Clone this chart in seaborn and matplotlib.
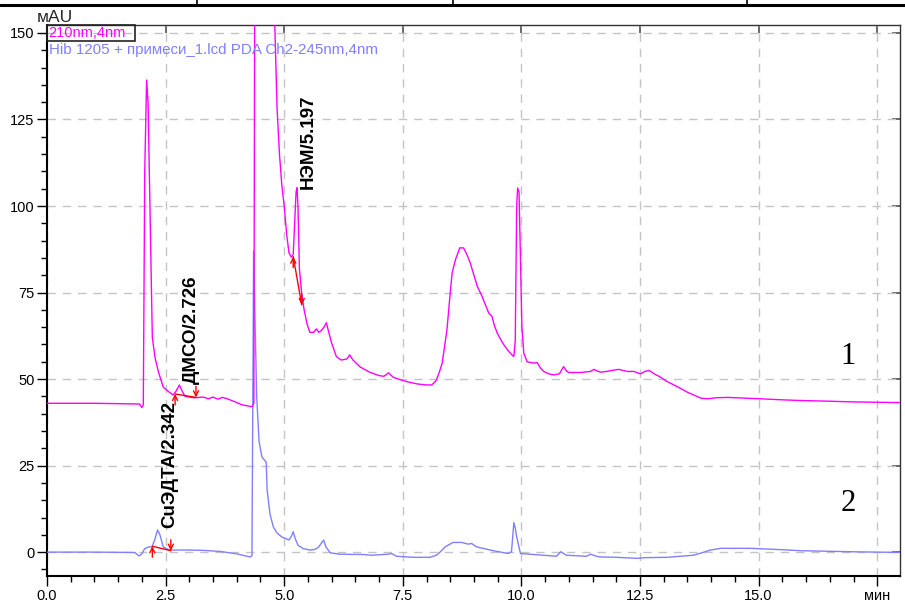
import numpy as np
import pandas as pd
import matplotlib
matplotlib.use("Agg")
import matplotlib.pyplot as plt
from matplotlib.lines import Line2D
from matplotlib.patches import Rectangle
import seaborn as sns

# ---------------- data ----------------
t_210 = [0.0, 1.0, 1.95, 2.0, 2.03, 2.06, 2.10, 2.13, 2.17, 2.22, 2.28, 2.35, 2.45, 2.55,
         2.66, 2.72, 2.79, 2.85, 2.91, 3.1, 3.3, 3.4, 3.5, 3.6, 3.7, 3.8, 3.95, 4.1, 4.25,
         4.32, 4.36, 4.38, 4.79, 4.80, 4.85, 4.90, 4.95, 5.00, 5.05, 5.10, 5.15, 5.19, 5.22,
         5.25, 5.27, 5.29, 5.32, 5.37, 5.42, 5.48, 5.54, 5.62, 5.68, 5.73, 5.78, 5.84, 5.89,
         5.93, 6.0, 6.1, 6.2, 6.32, 6.38, 6.45, 6.6, 6.8, 7.0, 7.1, 7.2, 7.3, 7.45, 7.6, 7.8,
         8.0, 8.11, 8.2, 8.27, 8.33, 8.43, 8.5, 8.54, 8.61, 8.70, 8.78, 8.85, 8.92, 9.0, 9.07,
         9.17, 9.24, 9.31, 9.38, 9.43, 9.49, 9.56, 9.63, 9.72, 9.80, 9.84, 9.87, 9.90, 9.92,
         9.95, 9.98, 10.01, 10.05, 10.12, 10.26, 10.33, 10.40, 10.47, 10.58, 10.68, 10.80,
         10.89, 10.95, 11.0, 11.25, 11.45, 11.53, 11.6, 11.67, 11.8, 11.95, 12.05, 12.23,
         12.37, 12.51, 12.6, 12.69, 12.8, 12.9, 13.07, 13.3, 13.5, 13.78, 13.92, 14.1, 14.34,
         14.7, 15.04, 15.5, 15.89, 16.5, 17.0, 18.0]
v_210 = [43.0, 43.0, 42.8, 41.8, 42.5, 110, 136.4, 130, 100, 62, 56, 52, 47.7, 46.5,
         45.4, 46.5, 48.3, 46.5, 45.0, 44.6, 44.8, 44.3, 44.8, 44.2, 44.7, 44.3, 43.5, 42.6, 42.2,
         42.0, 43.0, 175, 175, 153, 128, 115, 106, 100, 92, 86.5, 85.2, 86, 95,
         104, 105.3, 100, 82, 74.5, 70, 66, 63.5, 63.5, 64.5, 63.5, 64, 65, 66.3,
         64, 60.4, 56.5, 55.5, 55.8, 57, 55.5, 53.5, 52, 51, 50.8, 51.8, 50.5, 49.8, 49.2, 48.6,
         48.3, 48.3, 49.5, 52, 54.6, 64.2, 75, 80.7, 84.5, 87.9, 87.9, 86, 83.6, 80, 76.8,
         73.9, 71.5, 69.1, 68.1, 65.5, 63.3, 61.5, 59.9, 58.2, 57, 56.5, 61, 100, 105.2,
         104, 85, 65, 57.5, 55, 54.6, 54.8, 53.2, 52.2, 51.5, 51.2, 51.5,
         53.6, 52.3, 51.9, 51.9, 52.2, 52.8, 52.3, 52.0, 52.2, 52.6, 52.8, 52.2,
         52.2, 51.5, 52.2, 52.5, 51.5, 50.8, 49.3, 47.7, 46.2, 44.5, 44.3, 44.6, 44.7,
         44.5, 44.3, 44.0, 43.8, 43.6, 43.4, 43.2]

t_245 = [0.0, 1.0, 1.85, 1.94, 2.0, 2.06, 2.14, 2.21, 2.27, 2.33, 2.38, 2.45, 2.55, 2.6,
         3.0, 3.3, 3.65, 4.0, 4.28, 4.32, 4.345, 4.355, 4.38, 4.42, 4.47, 4.53, 4.62, 4.64,
         4.70, 4.77, 4.85, 4.95, 5.1, 5.15, 5.19, 5.23, 5.29, 5.4, 5.55, 5.65, 5.72, 5.78,
         5.83, 5.88, 5.97, 6.17, 6.67, 6.84, 7.2, 7.26, 7.37, 7.72, 8.07, 8.21, 8.3, 8.39,
         8.56, 8.74, 8.88, 8.95, 9.06, 9.41, 9.72, 9.79, 9.82, 9.84, 9.87, 9.90, 9.98, 10.18,
         10.46, 10.74, 10.83, 10.95, 11.37, 11.46, 11.58, 11.67, 12.0, 12.44, 12.6, 13.07,
         13.63, 13.8, 13.99, 14.2, 14.83, 15.5, 15.89, 17.0, 18.0]
v_245 = [0.0, 0.0, -0.1, -1.1, -0.5, 1.0, 1.5, 1.5, 3.5, 6.4, 5.0, 1.5, 0.8, 0.6,
         0.6, 0.5, 0.2, -0.5, -1.4, -1.0, 60, 87, 70, 45, 32, 27.5, 26, 18,
         11, 7.3, 5.5, 4.4, 3.5, 4.5, 5.9, 4.0, 2.0, 1.0, 0.6, 0.8, 1.4, 2.5,
         3.5, 1.5, -0.2, -0.6, -0.7, -0.9, -0.6, -0.4, -1.2, -1.5, -1.5, -0.9, 0.2, 1.5,
         2.8, 2.8, 2.3, 2.5, 1.5, 0.4, -0.4, 0.1, 5.0, 8.5, 7.0, 4.4, -0.4, -0.6,
         -0.9, -1.2, 0.1, -0.9, -1.2, -0.6, -1.2, -1.4, -1.5, -1.8, -1.6, -1.5,
         -0.9, -0.2, 0.6, 1.1, 1.1, 0.7, 0.4, 0.1, -0.1]

series_names = ["210nm,4nm", "Hib 1205 + примеси_1.lcd PDA Ch2-245nm,4nm"]
series_colors = ["#ff00ff", "#8080ff"]

peak_labels = ["CuЭДТА/2.342", "ДМСО/2.726", "НЭМ/5.197"]
peak_label_x = [2.59, 3.05, 5.51]
peak_label_y = [7.0, 48.6, 105.0]
# integration baselines: (start t, start v, end t, end v)
base_t0 = [2.22, 2.70, 5.19]
base_v0 = [1.7, 45.7, 85.4]
base_t1 = [2.61, 3.14, 5.37]
base_v1 = [0.4, 44.7, 71.4]

x_ticks = [0.0, 2.5, 5.0, 7.5, 10.0, 12.5, 15.0, 17.5]
x_ticklabels = ["0.0", "2.5", "5.0", "7.5", "10.0", "12.5", "15.0", "мин"]
y_ticks = [0, 25, 50, 75, 100, 125, 150]
trace_numbers = ["1", "2"]
trace_number_x = [16.88, 16.88]
trace_number_y = [56.5, 14.0]

# ---------------- figure ----------------
sns.set_theme(style="white")
plt.rcParams["font.family"] = ["Liberation Sans", "DejaVu Sans"]

fig = plt.figure(figsize=(9.05, 6.05), dpi=100)
W, H = 905, 605
L, R, T, B = 47, 900, 25, 576
ax = fig.add_axes([L / W, 1 - B / H, (R - L) / W, (B - T) / H])

df_a = pd.DataFrame({"t": t_210, "v": v_210})
df_b = pd.DataFrame({"t": t_245, "v": v_245})
sns.lineplot(data=df_b, x="t", y="v", color=series_colors[1], lw=1.0,
             estimator=None, sort=False, ax=ax, zorder=3)
sns.lineplot(data=df_a, x="t", y="v", color=series_colors[0], lw=1.0,
             estimator=None, sort=False, ax=ax, zorder=4)

ax.set_xlim(0, 17.98)
ax.set_ylim(-6.9, 152.3)
ax.set_xlabel("")
ax.set_ylabel("")

ax.set_xticks(x_ticks)
ax.set_xticklabels(x_ticklabels)
ax.set_yticks(y_ticks)
ax.set_xticks(np.arange(0, 18.0, 0.5), minor=True)
ax.set_yticks(np.arange(-5, 152, 5), minor=True)
ax.tick_params(axis="both", which="major", direction="out", length=7, width=1,
               color="black", labelsize=10.5, labelcolor="black", pad=2,
               bottom=True, left=True)
ax.tick_params(axis="both", which="minor", direction="out", length=4, width=1,
               color="black", bottom=True, left=True)

ax.grid(True, which="major", color="#c4c4c4", lw=1.0, linestyle=(0, (6, 5)))
ax.set_axisbelow(True)

for s in ["left", "bottom"]:
    ax.spines[s].set_color("black")
    ax.spines[s].set_linewidth(1.5)
for s in ["top", "right"]:
    ax.spines[s].set_color("#333333")
    ax.spines[s].set_linewidth(1.0)

# inward ticks on top and right
sec_x = ax.secondary_xaxis("top")
sec_x.set_xticks(x_ticks)
sec_x.tick_params(direction="in", length=6, labeltop=False, color="#555555")
sec_x.spines["top"].set_visible(False)
sec_y = ax.secondary_yaxis("right")
sec_y.set_yticks(y_ticks)
sec_y.tick_params(direction="in", length=6, labelright=False, color="#555555")
sec_y.spines["right"].set_visible(False)

# legend-like header
ax.add_patch(Rectangle((0, 1 - 16 / 551), 88 / 853, 16 / 551, transform=ax.transAxes,
                       fill=False, edgecolor="#222222", lw=1.2, zorder=6, clip_on=False))
ax.text(0.002, 1 - 8 / 551, series_names[0], transform=ax.transAxes, color=series_colors[0],
        fontsize=10.5, ha="left", va="center", zorder=7)
ax.text(0.002, 1 - 25 / 551, series_names[1], transform=ax.transAxes, color=series_colors[1],
        fontsize=10.9, ha="left", va="center", zorder=7)

fig.text(37 / W, 1 - 18 / H, "мАU", fontsize=12.5, ha="left", va="center")

# peak labels and integration marks
for lab, lx, ly in zip(peak_labels, peak_label_x, peak_label_y):
    ax.text(lx, ly, lab, rotation=90, ha="center", va="bottom", fontsize=13.5,
            fontweight="bold", color="black", zorder=8)
for a0, b0, a1, b1 in zip(base_t0, base_v0, base_t1, base_v1):
    ax.plot([a0, a1], [b0, b1], color="red", lw=1.0, zorder=9)
    ax.annotate("", xy=(a0, b0), xytext=(a0, b0 - 3.2),
                arrowprops=dict(arrowstyle="->", color="red", lw=1.0,
                                shrinkA=0, shrinkB=0, mutation_scale=9), zorder=9)
    ax.annotate("", xy=(a1, b1), xytext=(a1, b1 + 3.2),
                arrowprops=dict(arrowstyle="->", color="red", lw=1.0,
                                shrinkA=0, shrinkB=0, mutation_scale=9), zorder=9)

for lab, nx, ny in zip(trace_numbers, trace_number_x, trace_number_y):
    ax.text(nx, ny, lab, fontsize=22, family="Liberation Serif", ha="center",
            va="center", color="black", zorder=8)

# scanned-page table border at the top
fig.add_artist(Line2D([0, 1], [1 - 4.5 / H, 1 - 4.5 / H], color="black", lw=2.2,
                      transform=fig.transFigure))
for xp in [197, 453, 747]:
    fig.add_artist(Line2D([xp / W, xp / W], [1 - 4.5 / H, 1.0], color="black", lw=1.2,
                          transform=fig.transFigure))

fig.savefig("out.png", dpi=100)
